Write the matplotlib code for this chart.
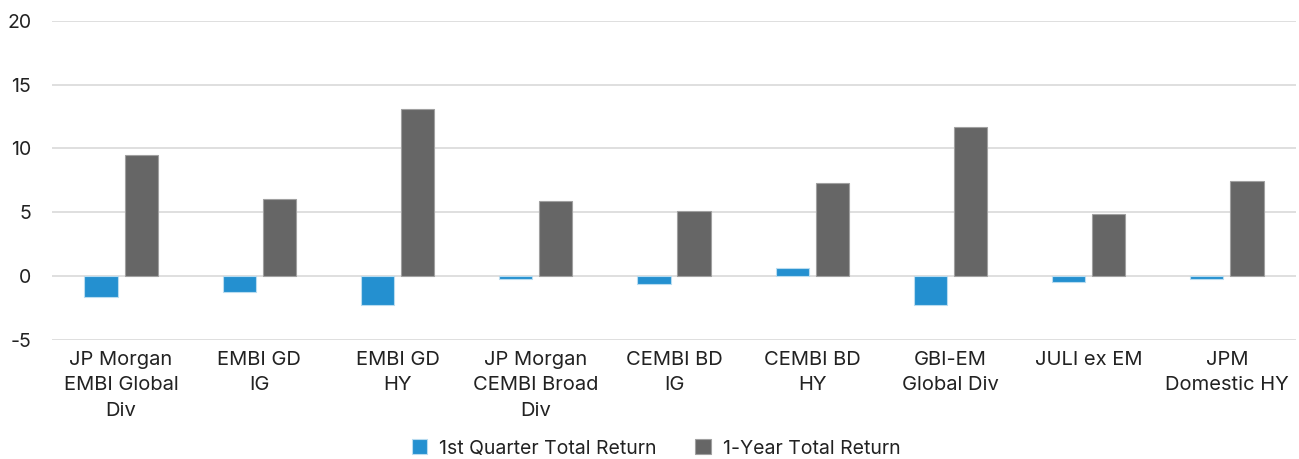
import numpy as np
import matplotlib.pyplot as plt

categories = ["JP Morgan\nEMBI Global\nDiv", "EMBI GD\nIG", "EMBI GD\nHY",
              "JP Morgan\nCEMBI Broad\nDiv", "CEMBI BD\nIG", "CEMBI BD\nHY",
              "GBI-EM\nGlobal Div", "JULI ex EM", "JPM\nDomestic HY"]
q1_return = [-1.67, -1.28, -2.27, -0.26, -0.68, 0.65, -2.27, -0.49, -0.26]
y1_return = [9.45, 6.04, 13.07, 5.86, 5.05, 7.27, 11.67, 4.84, 7.47]
y_ticks = [-5, 0, 5, 10, 15, 20]

plt.rcParams['font.family'] = ['Inter', 'DejaVu Sans']

fig = plt.figure(figsize=(12.99, 4.59), dpi=100)
ax = fig.add_axes([0.04, 0.2603, 0.9577, 0.6939])

x = np.arange(len(categories))
w = 0.24
ax.bar(x - 0.145, q1_return, w, color='#2490D0', edgecolor='#b9dcf0', linewidth=0.8,
       label='1st Quarter Total Return', zorder=3)
ax.bar(x + 0.145, y1_return, w, color='#666666', edgecolor='#a0a0a0', linewidth=0.8,
       label='1-Year Total Return', zorder=3)

ax.set_xlim(-0.5, len(categories) - 0.5)
ax.set_ylim(-5, 20)
ax.set_yticks(y_ticks)
ax.set_yticklabels([str(t) for t in y_ticks], fontsize=14, color='#222222')
ax.yaxis.grid(True, color='#d9d9d9', linewidth=1.2, zorder=0)
ax.set_xticks(x)
ax.set_xticklabels(categories, fontsize=14.5, color='#222222', linespacing=1.55, va='top')
ax.tick_params(axis='both', length=0)
ax.tick_params(axis='y', pad=15)
ax.tick_params(axis='x', pad=8)
for s in ax.spines.values():
    s.set_visible(False)

fig.legend(loc='lower center', bbox_to_anchor=(0.505, -0.035), ncol=2, frameon=False,
           fontsize=14, handlelength=0.8, handleheight=0.8, columnspacing=2.0,
           handletextpad=0.6, labelcolor='#222222')

fig.savefig('out.png', dpi=100)
